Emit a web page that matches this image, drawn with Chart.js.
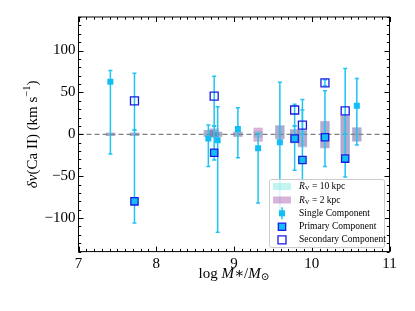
<!DOCTYPE html>
<html>
<head>
<meta charset="utf-8">
<script src="https://cdn.jsdelivr.net/npm/chart.js@4.4.1/dist/chart.umd.min.js"></script>
<style>
  html, body { margin: 0; padding: 0; background: #fff; }
</style>
</head>
<body>
<canvas id="chart" width="415" height="311"></canvas>
<script>
// --- data ---
// single component galaxies
const singleX  = [7.41, 8.67, 8.79, 9.05, 9.31, 9.59, 10.58];
const singleY  = [62.6, -5, -7, 6.3, -16.7, -9.5, 34];
const singleLo = [-23.5, -38.5, -117, -28, -82, -90, -12.7];
const singleHi = [76, 11, 33, 31.7, 1, 62, 66.7];

// two-component galaxies
const primaryX  = [7.72, 8.745, 9.78, 9.88, 10.17, 10.43];
const primaryY  = [-80, -22, -5, -30.6, -3.6, -29];
const primaryLo = [-106, -30.6, -43, -55, -38.5, -51];
const primaryHi = [5, 10, 10, 29, 52, 0];

const secondaryX  = [7.72, 8.745, 9.78, 9.88, 10.17, 10.43];
const secondaryY  = [40, 45.6, 29, 11, 61.4, 28];
const secondaryLo = [5, 10, 10, 0, 58, 0];
const secondaryHi = [73, 69.4, 36, 41.6, 65, 78.6];

// model bands (R_V = 10 kpc and R_V = 2 kpc)
const bandX     = [7.41, 7.72, 8.67, 8.745, 8.79, 9.05, 9.31, 9.59, 9.78, 9.88, 10.17, 10.43, 10.58];
const band10Lo  = [-2, -2, -3, -4, -3, -3, -4, -5, -10, -14, -16, -23, -8];
const band10Hi  = [2, 2, 5, 6, 3, 3, 4, 10, 6, 5, 15, 22, 8];
const band2Lo   = [-2, -2, -3, -4, -3, -3, -8.8, -6, -10.7, -15.5, -16.7, -24.6, -8.8];
const band2Hi   = [2, 2, 5, 7, 3, 3, 7.9, 11, 6, 5, 16, 23, 8.3];
const bandWidth = 0.12;

const xTicks = [7, 8, 9, 10, 11];
const yTicks = [-100, -50, 0, 50, 100];

const SERIF = '"Liberation Serif", "DejaVu Serif", serif';
const errColor = '#1ec4f2';
const cyanBand = 'rgba(64, 224, 208, 0.32)';
const purpleBand = 'rgba(128, 0, 128, 0.3)';
const blueEdge = '#1a1ae6';
const fillCyan = '#12bef4';

function pts(xs, ys) {
  return xs.map((x, i) => ({ x: x, y: ys[i] }));
}

// draw text made of styled pieces, starting at x (left), baseline y
function drawPieces(ctx, pieces, x, y, size) {
  pieces.forEach(p => {
    const s = p.sub || p.sup ? size * 0.7 : size;
    ctx.font = (p.italic ? 'italic ' : '') + s + 'px ' + SERIF;
    let dy = 0;
    if (p.sub) dy = size * 0.22;
    if (p.sup) dy = -size * 0.38;
    ctx.fillText(p.t, x, y + dy);
    x += ctx.measureText(p.t).width;
  });
  return x;
}

function piecesWidth(ctx, pieces, size) {
  let w = 0;
  pieces.forEach(p => {
    const s = p.sub || p.sup ? size * 0.7 : size;
    ctx.font = (p.italic ? 'italic ' : '') + s + 'px ' + SERIF;
    w += ctx.measureText(p.t).width;
  });
  return w;
}

function drawSquare(ctx, x, y, side, fill, stroke) {
  ctx.beginPath();
  ctx.rect(x - side / 2, y - side / 2, side, side);
  if (fill) { ctx.fillStyle = fill; ctx.fill(); }
  if (stroke) { ctx.lineWidth = 1.3; ctx.strokeStyle = stroke; ctx.stroke(); }
}

function errorBar(ctx, xs, xv, lo, hi) {
  const px = xs.x.getPixelForValue(xv);
  const y1 = xs.y.getPixelForValue(lo);
  const y2 = xs.y.getPixelForValue(hi);
  ctx.beginPath();
  ctx.moveTo(px, y1); ctx.lineTo(px, y2);
  ctx.moveTo(px - 2, y1); ctx.lineTo(px + 2, y1);
  ctx.moveTo(px - 2, y2); ctx.lineTo(px + 2, y2);
  ctx.stroke();
}

const decor = {
  id: 'decor',
  beforeDatasetsDraw(chart) {
    const ctx = chart.ctx;
    const sc = chart.scales;
    const a = chart.chartArea;
    ctx.save();
    ctx.beginPath();
    ctx.rect(a.left, a.top, a.right - a.left, a.bottom - a.top);
    ctx.clip();

    // bands
    bandX.forEach((bx, i) => {
      const l = sc.x.getPixelForValue(bx - bandWidth / 2);
      const r = sc.x.getPixelForValue(bx + bandWidth / 2);
      let t = sc.y.getPixelForValue(band10Hi[i]);
      let b = sc.y.getPixelForValue(band10Lo[i]);
      ctx.fillStyle = cyanBand;
      ctx.fillRect(l, t, r - l, b - t);
      t = sc.y.getPixelForValue(band2Hi[i]);
      b = sc.y.getPixelForValue(band2Lo[i]);
      ctx.fillStyle = purpleBand;
      ctx.fillRect(l, t, r - l, b - t);
    });

    // zero line
    const y0 = sc.y.getPixelForValue(0);
    ctx.strokeStyle = '#808080';
    ctx.lineWidth = 1.3;
    ctx.setLineDash([5, 3]);
    ctx.beginPath();
    ctx.moveTo(a.left, y0); ctx.lineTo(a.right, y0);
    ctx.stroke();
    ctx.setLineDash([]);

    // error bars
    ctx.strokeStyle = errColor;
    ctx.lineWidth = 1.5;
    singleX.forEach((x, i) => errorBar(ctx, sc, x, singleLo[i], singleHi[i]));
    primaryX.forEach((x, i) => errorBar(ctx, sc, x, primaryLo[i], primaryHi[i]));
    secondaryX.forEach((x, i) => errorBar(ctx, sc, x, secondaryLo[i], secondaryHi[i]));
    ctx.restore();
  },
  afterDraw(chart) {
    const ctx = chart.ctx;
    const sc = chart.scales;
    const a = chart.chartArea;
    ctx.save();

    // frame
    ctx.strokeStyle = '#000';
    ctx.lineWidth = 1;
    ctx.strokeRect(a.left, a.top, a.right - a.left, a.bottom - a.top);

    // ticks, inward on all four sides
    ctx.beginPath();
    for (let k = 70; k <= 110; k++) {
      const v = k / 10;
      const px = Math.round(sc.x.getPixelForValue(v)) + 0.5;
      const len = k % 10 === 0 ? 5 : 2.7;
      ctx.moveTo(px, a.bottom); ctx.lineTo(px, a.bottom - len);
      ctx.moveTo(px, a.top); ctx.lineTo(px, a.top + len);
    }
    for (let v = -140; v <= 140; v += 10) {
      const py = Math.round(sc.y.getPixelForValue(v)) + 0.5;
      const len = v % 50 === 0 ? 5 : 2.7;
      ctx.moveTo(a.left, py); ctx.lineTo(a.left + len, py);
      ctx.moveTo(a.right, py); ctx.lineTo(a.right - len, py);
    }
    ctx.stroke();

    // axis titles
    ctx.fillStyle = '#000';
    ctx.textBaseline = 'middle';
    const xt = [{ t: 'log ' }, { t: 'M', italic: true }, { t: '∗' }, { t: '/' }, { t: 'M', italic: true }, { t: '⊙', sub: true }];
    const xw = piecesWidth(ctx, xt, 15);
    drawPieces(ctx, xt, (a.left + a.right) / 2 - xw / 2, 274, 15);

    const yt = [{ t: 'δv', italic: true }, { t: '(Ca II) (km s' }, { t: '−1', sup: true }, { t: ')' }];
    ctx.save();
    ctx.translate(33, (a.top + a.bottom) / 2);
    ctx.rotate(-Math.PI / 2);
    const yw = piecesWidth(ctx, yt, 15);
    drawPieces(ctx, yt, -yw / 2, 0, 15);
    ctx.restore();

    // legend
    const L = { x: 269, y: 179, w: 115, h: 68 };
    ctx.fillStyle = 'rgba(255,255,255,0.82)';
    ctx.strokeStyle = '#cccccc';
    ctx.lineWidth = 1;
    ctx.beginPath();
    ctx.roundRect(L.x + 0.5, L.y + 0.5, L.w, L.h, 2);
    ctx.fill();
    ctx.stroke();

    const rows = [186.5, 200, 213.3, 226.7, 239.8];
    const hx = 282;
    ctx.fillStyle = cyanBand;
    ctx.fillRect(273, rows[0] - 3.5, 18, 7);
    ctx.fillStyle = purpleBand;
    ctx.fillRect(273, rows[1] - 3.5, 18, 7);

    ctx.strokeStyle = errColor;
    ctx.lineWidth = 1.5;
    ctx.beginPath();
    ctx.moveTo(hx, rows[2] - 6); ctx.lineTo(hx, rows[2] + 6);
    ctx.stroke();
    drawSquare(ctx, hx, rows[2], 6, fillCyan, null);
    drawSquare(ctx, hx, rows[3], 7.3, fillCyan, blueEdge);
    drawSquare(ctx, hx, rows[4], 8, null, blueEdge);

    ctx.fillStyle = '#000';
    const fs = 9.5;
    const tx = 299;
    drawPieces(ctx, [{ t: 'R', italic: true }, { t: 'V', sub: true }, { t: ' = 10 kpc' }], tx, rows[0], fs);
    drawPieces(ctx, [{ t: 'R', italic: true }, { t: 'V', sub: true }, { t: ' = 2 kpc' }], tx, rows[1], fs);
    drawPieces(ctx, [{ t: 'Single Component' }], tx, rows[2], fs);
    drawPieces(ctx, [{ t: 'Primary Component' }], tx, rows[3], fs);
    drawPieces(ctx, [{ t: 'Secondary Component' }], tx, rows[4], fs);
    ctx.restore();
  }
};

new Chart(document.getElementById('chart'), {
  type: 'scatter',
  data: {
    datasets: [
      {
        label: 'Single Component',
        data: pts(singleX, singleY),
        pointStyle: 'rect',
        pointRadius: 6 / 1.414,
        backgroundColor: fillCyan,
        borderWidth: 0
      },
      {
        label: 'Primary Component',
        data: pts(primaryX, primaryY),
        pointStyle: 'rect',
        pointRadius: 7.3 / 1.414,
        backgroundColor: fillCyan,
        borderColor: blueEdge,
        borderWidth: 1.3
      },
      {
        label: 'Secondary Component',
        data: pts(secondaryX, secondaryY),
        pointStyle: 'rect',
        pointRadius: 8 / 1.414,
        backgroundColor: 'rgba(0,0,0,0)',
        borderColor: blueEdge,
        borderWidth: 1.3
      }
    ]
  },
  options: {
    responsive: false,
    animation: false,
    devicePixelRatio: 1,
    layout: { padding: { left: 0, right: 25.5, top: 17, bottom: 0 } },
    plugins: { legend: { display: false }, tooltip: { enabled: false } },
    scales: {
      x: {
        type: 'linear',
        min: 7, max: 11,
        grid: { display: false, drawTicks: false },
        border: { display: false },
        afterBuildTicks(scale) { scale.ticks = xTicks.map(v => ({ value: v })); },
        afterFit(scale) { scale.height = 311 - 251.6 - 17 + 17; },
        ticks: { color: '#000', padding: 3, maxRotation: 0, font: { family: SERIF, size: 15 } }
      },
      y: {
        min: -140, max: 140,
        grid: { display: false, drawTicks: false },
        border: { display: false },
        afterBuildTicks(scale) { scale.ticks = yTicks.map(v => ({ value: v })); },
        afterFit(scale) { scale.width = 78.5; },
        ticks: {
          color: '#000', padding: 3, font: { family: SERIF, size: 15 },
          callback: v => String(v).replace('-', '−')
        }
      }
    }
  },
  plugins: [decor]
});
</script>
</body>
</html>
